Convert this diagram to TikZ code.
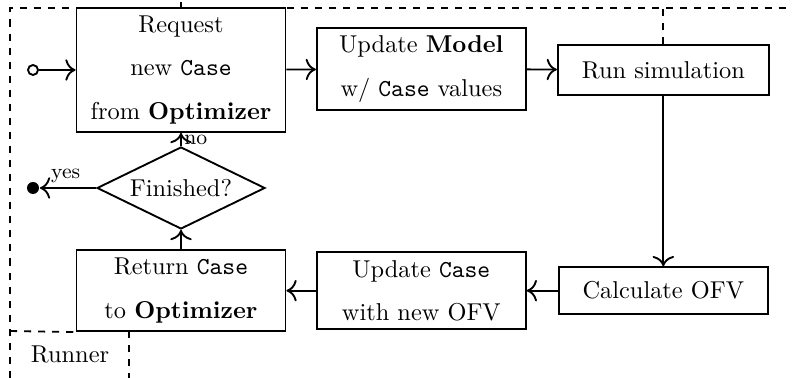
\documentclass[tikz,border=0pt]{standalone}
\usetikzlibrary{positioning,shapes.geometric,arrows.meta}
\tikzset{
    stepbox/.style={draw, align=center, minimum width=3.135cm, inner sep=2pt,
        font=\fontsize{10.4}{18.5}\selectfont},
    lanedash/.style={dashed, thick},
}
\begin{document}
\begin{tikzpicture}[thick, >={To[scale=1.3]}, every node/.style={font=\fontsize{10.4}{12.5}\selectfont}]
    \useasboundingbox (0,0) rectangle (11.88,5.67);
    % top row
    \node[stepbox, minimum height=1.86cm] (req) at (2.715,4.62)
        {Request\\new \texttt{Case}\\from \textbf{Optimizer}};
    \node[stepbox, minimum height=1.23cm] (model) at (6.32,4.635)
        {Update \textbf{Model}\\w/ \texttt{Case} values};
    \node[stepbox, minimum width=3.165cm, minimum height=0.75cm] (run) at (9.95,4.62)
        {Run simulation};
    % bottom row
    \node[stepbox, minimum height=0.705cm] (calc) at (9.95,1.31) {Calculate OFV};
    \node[stepbox, minimum height=1.155cm] (upd) at (6.32,1.31)
        {Update \texttt{Case}\\with new OFV};
    \node[stepbox, minimum height=1.215cm] (ret) at (2.715,1.31)
        {Return \texttt{Case}\\to \textbf{Optimizer}};
    \node[draw, diamond, aspect=2.05, inner sep=0pt, minimum width=2.52cm, minimum height=1.23cm]
        (fin) at (2.715,2.85) {Finished?};
    \node[draw, circle, inner sep=0pt, minimum size=0.15cm] (start) at (0.495,4.62) {};
    \node[fill, circle, inner sep=0pt, minimum size=0.18cm] (stop) at (0.495,2.85) {};

    \draw[->] (start) -- (req);
    \draw[->] (req) -- (model);
    \draw[->] (model) -- (run);
    \draw[->] (run) -- (calc);
    \draw[->] (calc) -- (upd);
    \draw[->] (upd) -- (ret);
    \draw[->] (ret) -- (fin);
    \draw[->] (fin) -- node[anchor=west, inner sep=1pt, font=\small] {no} (req);
    \draw[->] (fin) -- node[pos=0.9, above right, inner sep=2pt, font=\small] {yes} (stop);

    % lanes
    \draw[lanedash] (0.15,0) -- (0.15,5.55) -- (11.88,5.55);
    \draw[lanedash] (run.north) -- (run.north |- 0,5.55);
    \draw (req.north) -- ++(0,0.075);
    \draw[lanedash] (0.15,0.705) -- (ret.south west);
    \draw[lanedash] (1.935,0.705) -- (1.935,0);
    \node (runner) at (1.05,0.35) {Runner};
\end{tikzpicture}
\end{document}
